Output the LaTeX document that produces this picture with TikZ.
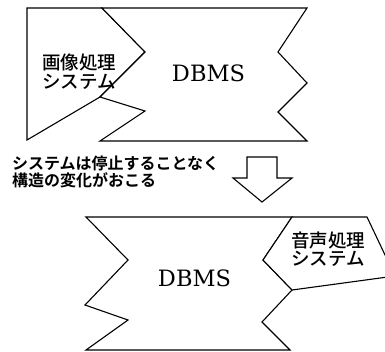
\documentclass[tikz,border=0pt]{standalone}
\usepackage{fontspec}
\newfontfamily\jp{Noto Sans CJK JP Medium}
\newfontfamily\jpbold{Noto Sans CJK JP Bold}
\newfontfamily\dbfont{DejaVu Serif}
\tikzset{
  outline/.style={draw=black, line width=1.1pt, line join=miter, fill=white},
  boxtext/.style={font=\jp\fontsize{18.5}{19.5}\selectfont, align=left, inner sep=0pt, anchor=west},
  dbtext/.style={font=\dbfont\fontsize{22.5}{24}\selectfont, inner sep=0pt},
  notetext/.style={font=\jpbold\fontsize{16}{14.5}\selectfont, align=left, inner sep=0pt, anchor=west}
}
\begin{document}
\begin{tikzpicture}[x=1pt,y=-1pt]
\useasboundingbox (0,0) rectangle (385,351);
\clip (0,0) rectangle (385,351);
% ---- top figure ----
% image processing system box
\draw[outline] (27,8) -- (102,8) -- (145,52) -- (100,97) -- (27,140) -- cycle;
% DBMS top
\draw[outline] (102,8) -- (307,8) -- (278,52) -- (307,83) -- (278,112) -- (307,141)
  -- (100,141) -- (145,111) -- (100,97) -- (145,52) -- cycle;
\node[boxtext] (imgsys) at (42,71.5) {画像処理\\システム};
\node[dbtext] (db1) at (208.5,73) {DBMS};
% ---- note ----
\node[notetext] (note) at (12,172) {システムは停止することなく\\構造の変化がおこる};
% ---- arrow ----
\draw[outline] (247,157) -- (277,157) -- (277,178) -- (292,178) -- (262,202)
  -- (233,178) -- (247,178) -- cycle;
% ---- bottom figure ----
\draw[outline] (86,217) -- (292,217) -- (263,260) -- (292,290) -- (262,322) -- (290,350)
  -- (86,350) -- (128,320) -- (85,305) -- (128,260) -- cycle;
\draw[outline] (292,217) -- (367,217) -- (395,276) -- (292,290) -- (263,260) -- cycle;
\node[dbtext] (db2) at (194.5,278) {DBMS};
\node[boxtext, font=\jp\fontsize{18.5}{18.5}\selectfont] (sndsys) at (291,249) {音声処理\\システム};
\end{tikzpicture}
\end{document}
